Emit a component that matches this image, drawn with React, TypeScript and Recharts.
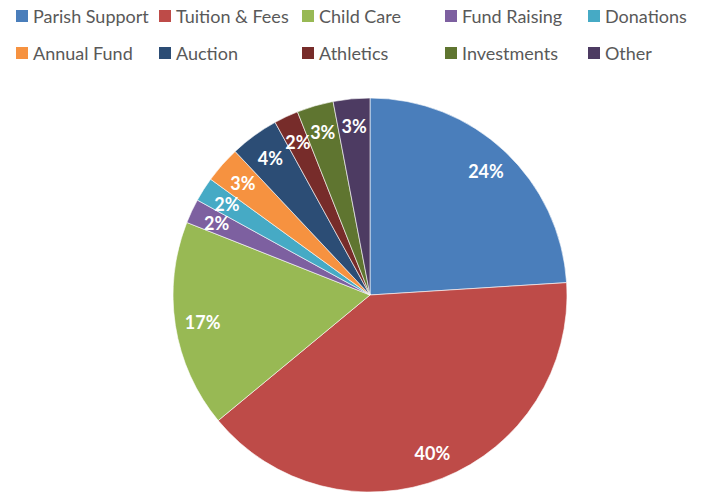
import { PieChart, Pie, Cell } from "recharts"

const categories = [
  "Parish Support",
  "Tuition & Fees",
  "Child Care",
  "Fund Raising",
  "Donations",
  "Annual Fund",
  "Auction",
  "Athletics",
  "Investments",
  "Other",
]
const shares = [24, 40, 17, 2, 2, 3, 4, 2, 3, 3]
const colors = [
  "#4a7ebb", "#be4b48", "#98b954", "#7d60a0", "#46aac5",
  "#f69240", "#2c4d75", "#772c2a", "#5f7530", "#4d3b62",
]
// legend rows as drawn
const legendRows = [
  [0, 1, 2, 3, 4],
  [5, 6, 7, 8, 9],
]

const data = categories.map((name, i) => ({ name, value: shares[i] }))

const RAD = Math.PI / 180

const renderLabel = (props: any) => {
  const { cx, cy, midAngle, outerRadius, percent } = props
  const r = outerRadius * 0.86
  const x = cx + r * Math.cos(-midAngle * RAD)
  const y = cy + r * Math.sin(-midAngle * RAD)
  return (
    <text
      x={x}
      y={y}
      fill="#ffffff"
      fontSize={18}
      fontWeight="bold"
      fontFamily="Lato, 'Open Sans', sans-serif"
      textAnchor="middle"
      dominantBaseline="central"
    >
      {`${Math.round(percent * 100)}%`}
    </text>
  )
}

const ChartLegend = () => (
  <div style={{ position: "absolute", top: 0, left: 0, fontFamily: "Lato, 'Open Sans', sans-serif", fontSize: 18, color: "#595959" }}>
    {legendRows.map((row, ri) => (
      <div key={ri} style={{ position: "absolute", top: ri === 0 ? 4 : 41, left: 16, display: "flex" }}>
        {row.map((idx) => (
          <div key={idx} style={{ width: 143, display: "flex", alignItems: "center", height: 24, whiteSpace: "nowrap" }}>
            <span style={{ width: 12, height: 12, background: colors[idx], marginRight: 5, display: "inline-block" }} />
            <span>{categories[idx]}</span>
          </div>
        ))}
      </div>
    ))}
  </div>
)

export default function App() {
  return (
    <div style={{ position: "absolute", top: 0, left: 0, width: 716, height: 501, background: "#fff", overflow: "hidden" }}>
      <PieChart width={716} height={501} margin={{ top: 0, right: 0, bottom: 0, left: 0 }}>
        <Pie
          data={data}
          dataKey="value"
          nameKey="name"
          cx={370}
          cy={295}
          outerRadius={197}
          startAngle={90}
          endAngle={-270}
          stroke="#ffffff"
          strokeWidth={0.6}
          label={renderLabel}
          labelLine={false}
          isAnimationActive={false}
        >
          {data.map((d, i) => (
            <Cell key={d.name} fill={colors[i]} />
          ))}
        </Pie>
      </PieChart>
      <ChartLegend />
    </div>
  )
}
